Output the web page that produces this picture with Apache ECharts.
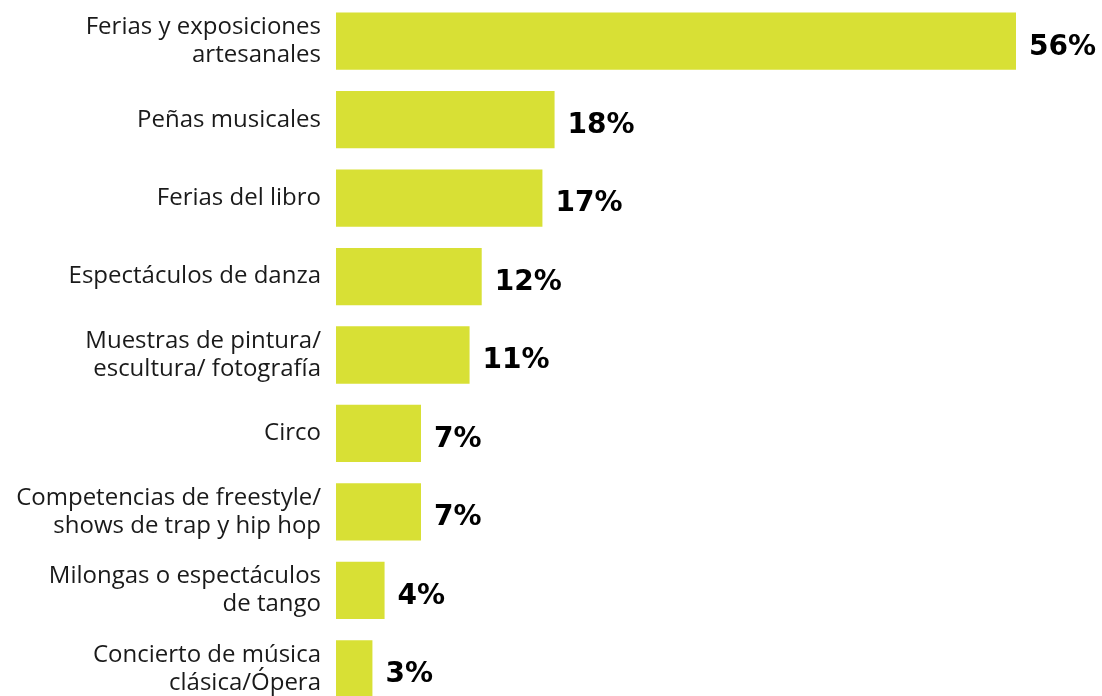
<!DOCTYPE html>
<html>
<head>
<meta charset="utf-8">
<script src="https://cdn.jsdelivr.net/npm/echarts@6/dist/echarts.min.js"></script>
<style>
html,body{margin:0;padding:0;background:#fff;}
#chart{width:1102px;height:696px;}
</style>
</head>
<body>
<div id="chart"></div>
<script>
const categories = [
  "Ferias y exposiciones\nartesanales",
  "Peñas musicales",
  "Ferias del libro",
  "Espectáculos de danza",
  "Muestras de pintura/\nescultura/ fotografía",
  "Circo",
  "Competencias de freestyle/\nshows de trap y hip hop",
  "Milongas o espectáculos\nde tango",
  "Concierto de música\nclásica/Ópera"
];
const values = [56, 18, 17, 12, 11, 7, 7, 4, 3];

const chart = echarts.init(document.getElementById('chart'));
chart.setOption({
  animation: false,
  backgroundColor: '#ffffff',
  grid: { left: 336, right: 86, top: 2, bottom: -12, containLabel: false, outerBoundsMode: 'none' },
  xAxis: {
    type: 'value', min: 0, max: 56,
    show: false
  },
  yAxis: {
    type: 'category',
    inverse: true,
    data: categories,
    axisLine: { show: false },
    axisTick: { show: false },
    axisLabel: {
      margin: 15,
      fontFamily: 'Open Sans',
      fontWeight: 400,
      fontSize: 24,
      lineHeight: 28,
      padding: [5, 0, 0, 0],
      color: '#1a1a1a',
      align: 'right'
    }
  },
  series: [{
    type: 'bar',
    data: values,
    barCategoryGap: '27%',
    itemStyle: { color: '#d8e035' },
    label: {
      show: true,
      position: 'right',
      distance: 13,
      offset: [0, 6],
      formatter: '{c}%',
      fontFamily: 'DejaVu Sans',
      fontWeight: 'bold',
      fontSize: 28,
      color: '#000'
    }
  }]
});
</script>
</body>
</html>
